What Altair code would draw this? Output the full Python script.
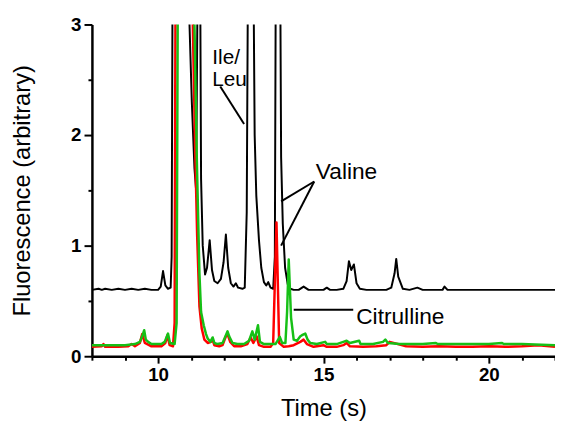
import altair as alt
import pandas as pd

# ---- data ----
black_t = [8.0, 8.2, 8.3, 8.4, 8.6, 8.8, 9.0, 9.2, 9.4, 9.6, 9.8, 10.0, 10.08, 10.15, 10.22, 10.3, 10.38,
           10.41, 10.44, 10.9, 10.95, 11.02, 11.1, 11.15, 11.2, 11.27, 11.3, 11.35, 11.42, 11.48, 11.56,
           11.63, 11.7, 11.8, 11.9, 11.98, 12.05, 12.12, 12.2, 12.28, 12.35, 12.42, 12.55, 12.62, 12.68,
           12.72, 12.88, 12.92, 12.97, 13.05, 13.12, 13.2, 13.27, 13.33, 13.4, 13.48, 13.53, 13.56, 13.69,
           13.72, 13.77, 13.84, 13.92, 14.0, 14.1, 14.25, 14.4, 14.55, 14.8, 15.0, 15.1, 15.2, 15.4, 15.6,
           15.7, 15.77, 15.84, 15.92, 16.0, 16.1, 16.3, 16.6, 16.9, 17.05, 17.15, 17.2, 17.26, 17.4, 17.6,
           17.84, 18.0, 18.3, 18.6, 18.66, 18.75, 19.0, 19.4, 19.8, 20.2, 20.6, 21.0, 21.5, 22.0]
black_v = [0.60, 0.61, 0.60, 0.61, 0.60, 0.61, 0.60, 0.61, 0.60, 0.61, 0.60, 0.60, 0.63, 0.77, 0.64, 0.61, 0.62,
           0.9, 3.6, 3.6, 3.0, 2.3, 1.7, 1.5, 3.6, 3.6, 1.6, 1.0, 0.74, 0.8, 1.05,
           0.78, 0.68, 0.66, 0.7, 0.85, 1.1, 0.8, 0.66, 0.63, 0.66, 0.62, 0.61, 0.62, 1.3,
           3.6, 3.6, 2.0, 1.45, 1.05, 0.8, 0.67, 0.64, 0.67, 0.62, 0.61, 0.9, 3.6, 3.6,
           1.8, 1.2, 0.8, 0.65, 0.61, 0.6, 0.6, 0.63, 0.6, 0.6, 0.6, 0.62, 0.6, 0.6, 0.61,
           0.68, 0.86, 0.78, 0.83, 0.66, 0.61, 0.6, 0.6, 0.6, 0.62, 0.75, 0.88, 0.72, 0.61, 0.6,
           0.62, 0.6, 0.6, 0.6, 0.63, 0.6, 0.6, 0.6, 0.6, 0.6, 0.6, 0.6, 0.6, 0.6]

red_t = [8.0, 8.3, 8.35, 8.4, 8.8, 9.1, 9.2, 9.3, 9.45, 9.52, 9.6, 9.8, 10.1, 10.22, 10.28, 10.35, 10.45,
         10.5, 10.53, 11.02, 11.05, 11.12, 11.18, 11.25, 11.32, 11.4, 11.5, 11.6, 11.65, 11.7, 11.85, 11.95,
         12.05, 12.1, 12.18, 12.3, 12.5, 12.7, 12.8, 12.88, 12.98, 13.05, 13.2, 13.4, 13.48, 13.58, 13.66,
         13.8, 13.95, 14.1, 14.3, 14.4, 14.5, 14.7, 15.0, 15.1, 15.4, 15.6, 15.7, 15.8, 16.2, 16.6, 16.9,
         17.0, 17.5, 18.0, 18.5, 19.0, 19.5, 20.0, 20.5, 21.0, 21.5, 22.0]
red_v = [0.085, 0.09, 0.11, 0.085, 0.085, 0.09, 0.11, 0.09, 0.12, 0.2, 0.12, 0.09, 0.09, 0.12, 0.19, 0.1, 0.09,
         0.3, 3.6, 3.6, 3.0, 1.9, 1.1, 0.45, 0.25, 0.15, 0.12, 0.13, 0.15, 0.1, 0.09, 0.1,
         0.18, 0.2, 0.13, 0.09, 0.09, 0.11, 0.17, 0.12, 0.18, 0.1, 0.085, 0.085, 0.12, 1.21, 0.12,
         0.085, 0.09, 0.1, 0.13, 0.15, 0.11, 0.085, 0.1, 0.085, 0.085, 0.1, 0.12, 0.09, 0.085, 0.09, 0.1,
         0.13, 0.09, 0.085, 0.09, 0.085, 0.085, 0.09, 0.085, 0.09, 0.1, 0.085]

green_t = [8.0, 8.5, 9.0, 9.3, 9.45, 9.52, 9.58, 9.63, 9.7, 9.8, 10.1, 10.2, 10.3, 10.36, 10.5, 10.56,
           10.6, 11.08, 11.1, 11.17, 11.25, 11.3, 11.38, 11.45, 11.5, 11.58, 11.65, 11.7, 11.8, 11.95, 12.05,
           12.1, 12.15, 12.25, 12.4, 12.6, 12.75, 12.85, 12.92, 13.02, 13.08, 13.2, 13.4, 13.55, 13.68, 13.75,
           13.85, 13.9, 13.95, 14.02, 14.1, 14.2, 14.3, 14.35, 14.45, 14.52, 14.6, 14.8, 15.05, 15.1, 15.4,
           15.6, 15.7, 15.8, 16.08, 16.12, 16.5, 16.8, 16.87, 16.95, 17.3, 18.0, 18.4, 18.45, 19.0, 20.0,
           20.4, 20.45, 21.0, 22.0]
green_v = [0.1, 0.1, 0.1, 0.11, 0.13, 0.18, 0.235, 0.15, 0.13, 0.11, 0.11, 0.13, 0.205, 0.12, 0.11, 0.3,
           3.6, 3.6, 3.0, 1.8, 0.75, 0.4, 0.28, 0.2, 0.16, 0.13, 0.17, 0.12, 0.11, 0.12, 0.19,
           0.225, 0.18, 0.12, 0.11, 0.11, 0.14, 0.225, 0.15, 0.28, 0.13, 0.11, 0.11, 0.11, 0.175, 0.12,
           0.12, 0.4, 0.875, 0.35, 0.15, 0.14, 0.18, 0.19, 0.205, 0.15, 0.12, 0.11, 0.13, 0.11, 0.11,
           0.13, 0.14, 0.12, 0.14, 0.11, 0.11, 0.13, 0.15, 0.12, 0.11, 0.11, 0.12, 0.11, 0.11, 0.11,
           0.12, 0.11, 0.11, 0.1]

label_text = ["Ile/", "Leu", "Valine", "Citrulline"]
label_t = [11.64, 11.64, 14.77, 15.99]
label_v = [2.645, 2.44, 1.607, 0.295]
label_size = [21, 21, 23, 23]

leader_t = [11.88, 14.72, 14.72, 14.10]
leader_v = [2.44, 1.58, 1.58, 0.42]
leader_t2 = [12.60, 13.72, 13.72, 15.90]
leader_v2 = [2.10, 1.40, 1.00, 0.42]

x_ticks = list(range(8, 23))
y_ticks = [0, 0.5, 1, 1.5, 2, 2.5, 3]

# ---- tables ----
traces = pd.concat([
    pd.DataFrame({"t": black_t, "v": black_v, "s": "black"}),
    pd.DataFrame({"t": red_t, "v": red_v, "s": "red"}),
    pd.DataFrame({"t": green_t, "v": green_v, "s": "green"}),
])
labels = pd.DataFrame({"t": label_t, "v": label_v, "text": label_text, "size": label_size})
leaders = pd.DataFrame({"t": leader_t, "v": leader_v, "t2": leader_t2, "v2": leader_v2})

FONT = "Liberation Sans"

xscale = alt.Scale(domain=[8, 22], nice=False, zero=False)
yscale = alt.Scale(domain=[0, 3], nice=False)

xaxis = alt.Axis(
    title="Time (s)", values=x_ticks,
    labelExpr="datum.value % 5 === 0 ? format(datum.value, 'd') : ''",
    tickSize={"condition": {"test": "datum.value % 5 === 0", "value": 7}, "value": 4},
    titleY=60, titleBaseline="alphabetic", labelPadding=3,
    labelOverlap=False, labelFlush=False,
)
yaxis = alt.Axis(
    title="Fluorescence (arbitrary)", values=y_ticks,
    labelExpr="datum.value % 1 === 0 ? format(datum.value, 'd') : ''",
    tickSize={"condition": {"test": "datum.value % 1 === 0", "value": 8}, "value": 4},
    titleX=-63, titleBaseline="alphabetic", labelPadding=3,
    labelOverlap=False, labelFlush=False,
)

X = alt.X("t:Q", scale=xscale, axis=xaxis)
Y = alt.Y("v:Q", scale=yscale, axis=yaxis)


def trace(name, color, width):
    return alt.Chart(traces).transform_filter(alt.datum.s == name).mark_line(
        color=color, strokeWidth=width, clip=True, strokeJoin="round"
    ).encode(x=X, y=Y)


black = trace("black", "#000000", 2)
red = trace("red", "#ff0000", 2.5)
green = trace("green", "#16c016", 2.5)

rules = alt.Chart(leaders).mark_rule(color="black", strokeWidth=2).encode(
    x=X, y=Y, x2="t2:Q", y2="v2:Q"
)

texts = alt.Chart(labels).mark_text(
    align="left", baseline="alphabetic", font=FONT, color="black"
).encode(
    x=X, y=Y, text="text:N",
    size=alt.Size("size:Q", scale=None, legend=None),
)

chart = alt.layer(black, red, green, rules, texts).properties(
    width=469, height=336,
    autosize="none",
    padding={"left": 85, "top": 14, "right": 0, "bottom": 70},
).configure_view(stroke=None).configure_axis(
    grid=False,
    domainColor="black", domainWidth=2.5,
    tickColor="black", tickWidth=2,
    labelFont=FONT, labelFontSize=19, labelFontWeight="bold", labelColor="black",
    titleFont=FONT, titleFontSize=24, titleFontWeight="normal", titleColor="black",
)

chart.save("out.html", embed_options={"renderer": "svg", "actions": False})
